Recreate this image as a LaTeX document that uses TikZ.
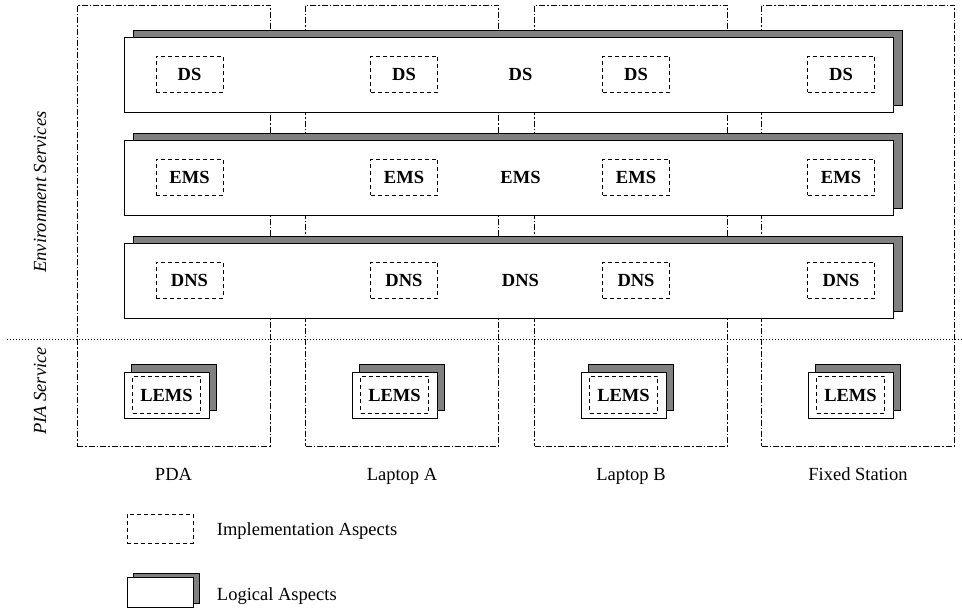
\documentclass[tikz,border=0pt]{standalone}
\usepackage{fontspec}
\setmainfont{Liberation Serif}
\usetikzlibrary{shadows,positioning}
\tikzstyle{every node}=[font=\fontsize{18.5}{22}\selectfont]
\tikzstyle{device}=[draw,line width=0.7pt,dash pattern=on 6pt off 2pt on 1.5pt off 2pt,minimum width=193pt,minimum height=441pt]
\tikzstyle{layer}=[draw,fill=white,line width=0.9pt,minimum width=769pt,minimum height=75pt,
  copy shadow={shadow xshift=9pt,shadow yshift=7pt,fill=black!50,draw,line width=0.9pt}]
\tikzstyle{impl}=[draw,line width=0.7pt,dash pattern=on 4pt off 3pt,minimum width=67pt,minimum height=36pt,font=\fontsize{18.5}{22}\selectfont\bfseries]
\tikzstyle{card}=[draw,fill=white,line width=0.9pt,minimum width=85pt,minimum height=46pt]
\tikzstyle{logical}=[card,copy shadow={shadow xshift=7pt,shadow yshift=8pt,fill=black!50,draw,line width=0.9pt}]
\tikzstyle{side}=[rotate=90,font=\fontsize{18.5}{22}\selectfont\itshape]

\begin{document}
\begin{tikzpicture}[x=1pt,y=-1pt]
  \useasboundingbox (0,0) rectangle (962,609);
  % devices
  \node [device] (pda) at (173.5,225.5) {};
  \node [device] (lapa) at (402,225.5) {};
  \node [device] (lapb) at (631,225.5) {};
  \node [device] (fixed) at (858,225.5) {};
  \node [below=34pt of pda.south, anchor=base] {PDA};
  \node [below=34pt of lapa.south, anchor=base] {Laptop A};
  \node [below=34pt of lapb.south, anchor=base] {Laptop B};
  \node [below=34pt of fixed.south, anchor=base] {Fixed Station};
  % environment services
  \node [layer] (ds) at (508.5,74.5) {};
  \node [layer] (ems) at (508.5,177.5) {};
  \node [layer] (dns) at (508.5,280.5) {};
  \node [font=\fontsize{18.5}{22}\selectfont\bfseries] at ([xshift=12pt]ds.center) {DS};
  \node [font=\fontsize{18.5}{22}\selectfont\bfseries] at ([xshift=12pt]ems.center) {EMS};
  \node [font=\fontsize{18.5}{22}\selectfont\bfseries] at ([xshift=12pt]dns.center) {DNS};
  \node [impl] (ds-pda) at (189.5,74.5) {DS};
  \node [impl] (ds-lapa) at (404,74.5) {DS};
  \node [impl] (ds-lapb) at (636,74.5) {DS};
  \node [impl] (ds-fixed) at (841,74.5) {DS};
  \node [impl] (ems-pda) at (189.5,177.5) {EMS};
  \node [impl] (ems-lapa) at (404,177.5) {EMS};
  \node [impl] (ems-lapb) at (636,177.5) {EMS};
  \node [impl] (ems-fixed) at (841,177.5) {EMS};
  \node [impl] (dns-pda) at (189.5,280.5) {DNS};
  \node [impl] (dns-lapa) at (404,280.5) {DNS};
  \node [impl] (dns-lapb) at (636,280.5) {DNS};
  \node [impl] (dns-fixed) at (841,280.5) {DNS};
  % pia service
  \draw [line width=0.7pt,dash pattern=on 1pt off 2pt] (7,339) -- (962,339);
  \node [logical] (lems-pda) at (166.5,395) {};
  \node [logical] (lems-lapa) at (394.5,395) {};
  \node [logical] (lems-lapb) at (623.5,395) {};
  \node [logical] (lems-fixed) at (850.5,395) {};
  \node [impl,minimum width=68pt,minimum height=37pt] at (lems-pda) {LEMS};
  \node [impl,minimum width=68pt,minimum height=37pt] at (lems-lapa) {LEMS};
  \node [impl,minimum width=68pt,minimum height=37pt] at (lems-lapb) {LEMS};
  \node [impl,minimum width=68pt,minimum height=37pt] at (lems-fixed) {LEMS};
  \node [side] (envlabel) at (40,192) {Environment Services};
  \node [side] (pialabel) at (40,391) {PIA Service};
  % legend
  \node [impl,minimum width=66pt,minimum height=29pt] (legimpl) at (160,528.5) {};
  \node [right=20pt of legimpl, yshift=-3pt] {Implementation Aspects};
  \node [card,minimum width=66pt,minimum height=30pt,
    copy shadow={shadow xshift=6pt,shadow yshift=4pt,fill=black!50,draw,line width=0.9pt}] (leglogical) at (160,592.5) {};
  \node [right=20pt of leglogical, yshift=-4pt] {Logical Aspects};
\end{tikzpicture}
\end{document}
